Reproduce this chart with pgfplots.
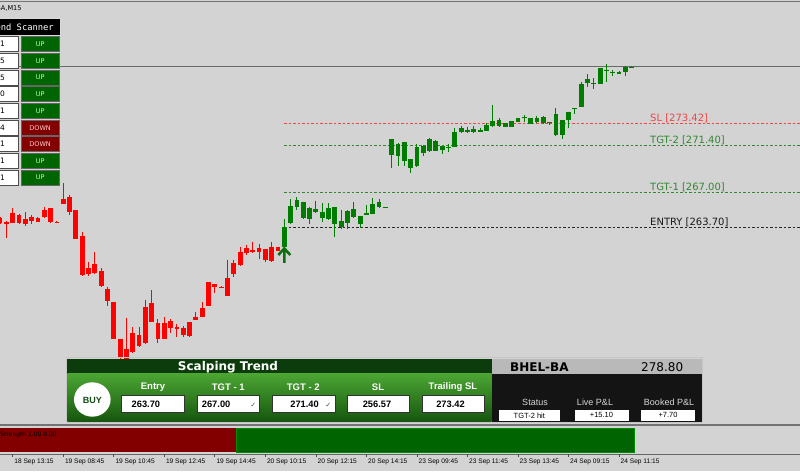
\documentclass[border=0pt]{standalone}
\usepackage{pgfplots}
\pgfplotsset{compat=1.18}
\usepackage{pgfplotstable}
\usepackage{fontspec}
\setmainfont{DejaVu Sans}
\newfontfamily\arial{Liberation Sans}
\newfontfamily\mono{DejaVu Sans Mono}

\definecolor{chartbg}{RGB}{211,211,211}
\definecolor{candlered}{RGB}{255,0,0}
\definecolor{candlegreen}{RGB}{0,125,0}
\definecolor{arrowgreen}{RGB}{15,110,15}
\definecolor{slred}{RGB}{240,70,70}
\definecolor{tgtgreen}{RGB}{50,135,50}
\definecolor{bidgray}{RGB}{105,105,105}
\definecolor{panelhead}{RGB}{12,60,12}
\definecolor{gradtop}{RGB}{75,165,50}
\definecolor{gradbot}{RGB}{22,85,15}
\definecolor{headgray}{RGB}{185,185,185}
\definecolor{upgreen}{RGB}{0,100,0}
\definecolor{downred}{RGB}{130,0,0}
\definecolor{buygreen}{RGB}{20,75,20}

% k = bar index, body between top and bot, wick between hi and lo
\pgfplotstableread{
k hi top bot lo
0 264.67 264.55 264.08 264.01
1 264.32 264.17 264.04 262.67
2 265.48 265.07 264.13 264.08
3 264.95 264.88 264.13 263.98
4 265.16 264.51 263.98 263.85
5 264.85 264.70 264.32 263.98
6 264.64 264.55 264.23 264.17
7 265.63 265.32 264.64 264.60
8 265.54 265.48 264.17 264.13
9 264.25 264.22 264.13 264.12
10 267.83 266.36 265.89 265.89
11 266.73 266.55 265.14 264.83
12 265.32 265.32 262.57 262.57
13 263.23 262.88 259.19 259.13
14 260.47 259.91 259.29 259.16
15 261.35 260.23 259.38 259.32
16 259.85 259.60 258.19 258.12
17 258.12 257.93 256.81 256.31
18 256.71 256.71 253.18 253.18
19 253.24 253.24 251.40 251.15
20 255.21 252.27 251.15 251.05
21 254.34 253.75 251.96 251.87
22 254.34 253.59 252.55 252.49
23 256.87 256.24 252.81 252.74
24 257.81 256.56 254.84 254.78
25 255.06 254.69 253.18 252.86
26 255.25 254.69 253.21 253.18
27 255.06 254.90 254.27 253.80
28 254.62 254.37 254.12 253.37
29 254.43 254.27 253.59 253.37
30 254.78 254.78 253.49 253.43
31 255.78 255.31 255.00 255.00
32 256.66 256.09 255.31 255.28
33 258.54 258.54 256.31 256.31
34 258.38 258.38 258.12 257.50
35 258.16 258.14 258.02 258.00
36 260.63 258.97 257.28 257.25
37 260.63 260.32 259.32 259.01
38 261.88 261.41 260.13 260.07
39 262.04 261.73 261.32 261.07
40 262.35 261.57 261.41 261.26
41 262.10 261.73 261.38 260.75
42 261.69 261.69 260.63 260.41
43 262.32 261.88 260.54 260.47
44 261.88 261.88 261.50 261.50
}\redcandles

\pgfplotstableread{
k hi top bot lo
45 264.45 263.70 261.88 261.88
46 266.33 265.70 264.08 264.01
47 266.52 266.26 265.58 265.32
48 266.08 266.08 264.55 264.48
49 265.63 265.54 264.48 263.98
50 266.17 265.39 265.11 265.04
51 265.95 265.16 264.60 264.17
52 265.95 265.48 264.48 264.41
53 265.58 265.58 263.98 262.76
54 265.32 264.29 263.76 263.54
55 265.32 265.26 264.13 263.54
56 266.10 265.39 264.64 264.57
57 264.76 264.76 263.98 263.66
58 265.79 265.07 264.85 264.85
59 266.42 265.86 264.92 264.92
60 266.36 266.08 265.61 265.54
61 265.65 265.63 265.54 265.52
62 271.96 271.96 270.49 269.30
63 271.59 271.49 270.40 269.46
64 271.71 271.71 269.95 269.46
65 270.09 270.09 269.24 268.83
66 271.52 271.21 269.46 269.39
67 271.43 271.33 270.71 270.40
68 272.06 271.96 270.86 270.80
69 271.90 271.80 270.86 270.86
70 271.33 271.33 270.96 270.55
71 271.52 271.21 271.12 270.74
72 273.00 272.68 271.24 271.21
73 273.24 273.05 272.62 272.53
74 273.15 272.84 272.68 272.58
75 273.21 272.93 272.62 272.53
76 273.05 272.84 272.68 272.62
77 273.47 273.31 272.77 272.74
78 275.18 273.68 273.21 273.15
79 273.99 273.78 273.24 273.15
80 273.47 273.47 273.15 273.09
81 273.68 273.68 273.15 273.15
82 273.94 273.94 273.62 273.62
83 274.25 274.09 273.99 273.62
84 273.94 273.94 273.40 273.40
85 274.18 273.94 273.56 273.47
86 274.18 274.06 273.47 273.40
87 273.56 273.56 273.49 273.31
88 274.87 274.34 272.37 272.27
89 273.78 273.78 272.37 271.96
90 274.55 274.55 273.78 273.05
91 274.87 274.87 274.78 274.31
92 277.37 277.13 274.97 274.97
93 278.07 277.63 277.22 276.85
94 277.69 277.28 277.18 276.69
95 278.69 278.69 277.13 277.13
96 279.01 278.47 278.38 277.32
97 278.47 278.31 278.22 277.94
98 278.38 278.31 278.10 278.07
99 278.87 278.72 278.25 277.91
100 278.84 278.78 278.69 278.63
}\greencandles

\pgfdeclareplotmark{buyarrow}{%
  \pgfsetlinewidth{2.6pt}%
  \pgfpathmoveto{\pgfpoint{-6pt}{0pt}}%
  \pgfpathlineto{\pgfpoint{0pt}{6.5pt}}%
  \pgfpathlineto{\pgfpoint{6pt}{0pt}}%
  \pgfpathmoveto{\pgfpoint{0pt}{6.5pt}}%
  \pgfpathlineto{\pgfpoint{0pt}{-8pt}}%
  \pgfusepathqstroke}

\pgfplotsset{
  wick/.style={draw=none, forget plot,
    error bars/.cd, y dir=minus, y explicit, error mark=none,
    error bar style={line width=1pt, draw=#1}},
  body/.style={draw=none, forget plot,
    error bars/.cd, y dir=minus, y explicit, error mark=none,
    error bar style={line width=4.8pt, draw=#1}},
}

\begin{document}
\begin{tikzpicture}
\fill[chartbg] (0,0) rectangle (800pt,471pt);

\begin{axis}[
  at={(0,0)}, anchor=south west,
  scale only axis, width=800pt, height=471pt,
  xmin=-0.0158, xmax=126.65,
  ymin=240.82, ymax=285.04,
  axis lines=none, xtick=\empty, ytick=\empty,
  clip=true,
]
% price levels
\addplot[bidgray, line width=1.5pt] coordinates {(-1,278.80) (130,278.80)};
\addplot[slred, line width=0.9pt, dash pattern=on 2.5pt off 2pt] coordinates {(44.95,273.42) (130,273.42)};
\addplot[tgtgreen, line width=0.9pt, dash pattern=on 2.5pt off 2pt] coordinates {(44.95,271.40) (130,271.40)};
\addplot[tgtgreen, line width=0.9pt, dash pattern=on 2.5pt off 2pt] coordinates {(44.95,267.00) (130,267.00)};
\addplot[black!85, line width=0.9pt, dash pattern=on 2.5pt off 2pt] coordinates {(44.95,263.70) (130,263.70)};

% candles
\addplot[wick=candlered] table[x=k, y=hi, y error minus expr=\thisrow{hi}-\thisrow{lo}] {\redcandles};
\addplot[body=candlered] table[x=k, y=top, y error minus expr=\thisrow{top}-\thisrow{bot}] {\redcandles};
\addplot[wick=candlegreen] table[x=k, y=hi, y error minus expr=\thisrow{hi}-\thisrow{lo}] {\greencandles};
\addplot[body=candlegreen] table[x=k, y=top, y error minus expr=\thisrow{top}-\thisrow{bot}] {\greencandles};

% buy signal
\addplot[only marks, mark=buyarrow, arrowgreen, mark options={line width=2.6pt}] coordinates {(45,261.10)};
\end{axis}

\begin{scope}[x=1pt, y=-1pt, yshift=471pt]
% top border and title
\draw[black!55, line width=1pt] (0,1.5) -- (800,1.5);
\node[anchor=base east, inner sep=0, font=\fontsize{6.6}{8}\selectfont] at (21.8,10.8) {BHEL-BA,M15};

% level labels
\begin{scope}[every node/.style={anchor=base west, inner sep=0, font=\fontsize{10}{12}\selectfont}]
\node[text=slred] at (650,121.8) {SL [273.42]};
\node[text=tgtgreen] at (650,143.3) {TGT-2 [271.40]};
\node[text=tgtgreen] at (650,190.2) {TGT-1 [267.00]};
\node[text=black!90] at (650,225.3) {ENTRY [263.70]};
\end{scope}

% trend scanner
\fill[black] (-2,18.3) rectangle (61,36);
\draw[gray!30, line width=0.8pt] (-2,18.7) rectangle (60.6,35.6);
\node[anchor=base east, inner sep=0, text=white, font=\mono\fontsize{8.8}{10}\selectfont] at (54,31) {Trend Scanner};
\foreach \tf/\dir [count=\i from 0] in {M1/UP,M5/UP,M15/UP,M30/UP,H1/UP,H4/DOWN,D1/DOWN,W1/UP,MN1/UP} {
  \pgfmathsetmacro{\yy}{36.7+16.67*\i}
  \filldraw[fill=white, draw=black!70, line width=0.6pt] (-2,\yy) rectangle (18.3,\yy+15);
  \node[anchor=east, inner sep=0, font=\fontsize{7.5}{8}\selectfont] at (5.2,\yy+7.5) {\tf};
  \ifnum\pdfstrcmp{\dir}{UP}=0
    \filldraw[fill=upgreen, draw=black!60, line width=0.6pt] (21,\yy) rectangle (59.3,\yy+15);
    \node[text=green!25!white, font=\fontsize{6.5}{7}\selectfont] at (40.1,\yy+7.6) {UP};
  \else
    \filldraw[fill=downred, draw=black!60, line width=0.6pt] (21,\yy) rectangle (59.3,\yy+15);
    \node[text=red!20!white, font=\fontsize{6.5}{7}\selectfont] at (40.1,\yy+7.6) {DOWN};
  \fi
}

% Scalping Trend panel
\draw[gray!45, line width=1pt] (66.3,358) rectangle (702.5,423);
\fill[panelhead] (67.3,359) rectangle (491.5,374);
\shade[top color=gradtop, bottom color=gradbot] (67.3,374) rectangle (491.5,422);
\fill[headgray] (491.5,359) rectangle (701.5,374);
\fill[black!92] (491.5,374) rectangle (701.5,422);
\node[text=white, font=\bfseries\fontsize{12}{14}\selectfont] at (228,367) {Scalping Trend};
\node[anchor=west, inner sep=0, font=\bfseries\fontsize{12}{14}\selectfont] at (510,367) {BHEL-BA};
\node[anchor=west, inner sep=0, font=\fontsize{12}{14}\selectfont] at (641,367) {278.80};

\fill[white] (92.3,399.5) ellipse (18.3 and 17.2);
\node[text=buygreen, font=\arial\bfseries\fontsize{9}{10}\selectfont] at (92.3,400) {BUY};

\begin{scope}[every node/.style={text=white, font=\arial\bfseries\fontsize{9.5}{11}\selectfont}]
\node at (153,387) {Entry};
\node at (228.3,387) {TGT - 1};
\node at (303.3,387) {TGT - 2};
\node at (378,387) {SL};
\node at (453,387) {Trailing SL};
\end{scope}
\foreach \xa in {121.7,197.3,272.7,347.3,421.8}
  \filldraw[fill=white, draw=black!80, line width=0.6pt] (\xa,395.7) rectangle (\xa+62.2,412.3);
\begin{scope}[every node/.style={inner sep=0, font=\arial\bfseries\fontsize{9.3}{11}\selectfont}]
\node[anchor=west] at (131.5,404) {263.70};
\node[anchor=west] at (201.7,404) {267.00};
\node[anchor=east] at (319,404) {271.40};
\node at (377,404) {256.57};
\node at (450.5,404) {273.42};
\end{scope}
\node[text=black!70, font=\fontsize{7}{8}\selectfont] at (253.3,405) {✓};
\node[text=black!70, font=\fontsize{7}{8}\selectfont] at (328.3,405) {✓};

\begin{scope}[every node/.style={text=black!15, font=\arial\fontsize{9}{10}\selectfont}]
\node at (535,402.3) {Status};
\node at (595,402.3) {Live P\&L};
\node at (669,402.3) {Booked P\&L};
\end{scope}
\fill[white] (498.6,410) rectangle (560,420.7);
\fill[white] (574.5,410) rectangle (628.5,420.7);
\fill[white] (641,410) rectangle (695,420.7);
\begin{scope}[every node/.style={font=\arial\fontsize{7.5}{8}\selectfont}]
\node at (529.3,415.4) {TGT-2 hit};
\node at (601.5,415.4) {+15.10};
\node at (668,415.4) {+7.70};
\end{scope}

% separator between windows
\draw[black!55, line width=1.6pt] (0,425) -- (800,425);

% strength window
\fill[downred] (0,428.3) rectangle (236.7,452);
\filldraw[fill=upgreen, draw=green!55!black, line width=0.6pt] (236.7,428.3) rectangle (634,452);
\node[anchor=base east, inner sep=0, font=\fontsize{6}{7}\selectfont] at (57,436.5) {Strength 1.00 0.00};

% time axis
\draw[black!60, line width=1.2pt] (0,454.2) -- (800,454.2);
\foreach \xt/\lab in {12.7/18 Sep 13:15, 63.3/19 Sep 08:45, 113.8/19 Sep 10:45, 164.3/19 Sep 12:45,
    214.8/19 Sep 14:45, 265.3/20 Sep 10:15, 315.9/20 Sep 12:15, 366.4/20 Sep 14:15,
    417.0/23 Sep 09:45, 467.5/23 Sep 11:45, 518.0/23 Sep 13:45, 568.5/24 Sep 09:15, 619.0/24 Sep 11:15} {
  \draw[black!70, line width=0.8pt] (\xt,454.2) -- (\xt,457.2);
  \node[anchor=west, inner sep=0, font=\arial\fontsize{6.6}{8}\selectfont] at (\xt+1.5,462.3) {\lab};
}
\end{scope}

\pgfresetboundingbox
\path[use as bounding box] (0,0) rectangle (800pt,471pt);
\end{tikzpicture}
\end{document}
